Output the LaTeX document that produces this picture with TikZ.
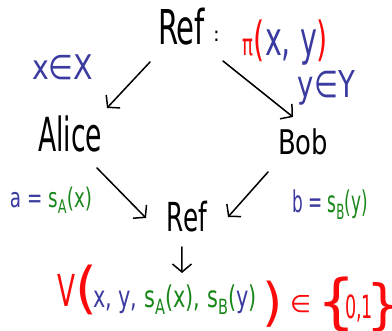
\documentclass[tikz,border=0pt]{standalone}
\usepackage{fontspec}
\setmainfont{DejaVu Sans}
\usetikzlibrary{arrows.meta}
\definecolor{hred}{RGB}{250,10,10}
\definecolor{hblue}{RGB}{58,58,160}
\definecolor{hgreen}{RGB}{25,135,25}
% width w (pt), font size f (pt), text
\newcommand{\wtxt}[3]{\resizebox{#1pt}{\height}{\fontsize{#2}{#2}\selectfont #3}}
\newcommand{\fsz}[2]{{\fontsize{#1}{#1}\selectfont #2}}
\begin{document}
\begin{tikzpicture}[x=1pt,y=-1pt,
  txt/.style={anchor=base west, inner sep=0pt, outer sep=0pt},
  arr/.style={line width=1.5pt, line cap=round, -{Straight Barb[length=8pt,width=19pt,line width=1.5pt]}}]
\useasboundingbox[fill=white] (0,0) rectangle (392,331);
% top
\node[txt] (refTop) at (158,45) {\wtxt{47}{48}{Ref}};
\node[txt] (colon) at (213,42) {\fsz{20}{:}};
\node[txt] (pi) at (243,56) {\wtxt{85}{47}{\textcolor{hred}{\fsz{30}{π}(}\textcolor{hblue}{x, y}\textcolor{hred}{)}}};
\node[txt, text=hblue] (xinX) at (32,80) {\wtxt{61}{34}{x∈X}};
\node[txt, text=hblue] (yinY) at (298,98) {\wtxt{57}{37}{y∈Y}};
% middle
\node[txt] (alice) at (38,152) {\wtxt{64}{47}{Alice}};
\node[txt] (bob) at (278,155) {\wtxt{50}{34}{Bob}};
\node[txt] (aeq) at (10,208) {\wtxt{82}{27}{\textcolor{hblue}{a = }\textcolor{hgreen}{s\textsubscript{A}(x)}}};
\node[txt] (beq) at (292,213) {\wtxt{76}{30}{\textcolor{hblue}{b = }\textcolor{hgreen}{s\textsubscript{B}(y)}}};
\node[txt] (refBot) at (167,232) {\wtxt{40}{40}{Ref}};
% bottom formula
\node[txt, text=hred] (vV) at (57,307) {\wtxt{18}{44}{V}};
\node[txt, text=hred] (lpar) at (75,308) {\fsz{56}{(}};
\node[txt] (inner) at (93,308) {\wtxt{164}{30}{\textcolor{hblue}{x, y, }\textcolor{hgreen}{s\textsubscript{A}(x), s\textsubscript{B}(}\textcolor{hblue}{y}\textcolor{hgreen}{)}}};
\node[txt, text=hred] (rpar) at (262,321) {\fsz{52}{)}};
\node[txt, text=hred] (elem) at (290,313) {\fsz{24}{∈}};
\node[txt, text=hred] (lbr) at (317,323) {\makebox[27pt][l]{\fsz{60}{\{}}};
\node[txt, text=hred] (zo) at (345,319) {\scalebox{0.55}[1]{\fsz{32}{0,1}}};
\node[txt, text=hred] (rbr) at (366,324) {\makebox[24pt][l]{\fsz{54}{\}}}};
% arrows
\draw[arr] ([shift={(-8,17)}]refTop.base west) -- ([shift={(5,-44)}]alice.base east);
\draw[arr] ([shift={(18,16)}]refTop.base east) -- ([shift={(-10,-38)}]bob.base);
\draw[arr] ([shift={(-5,16)}]alice.base east) -- ([shift={(-21,-14)}]refBot.base west);
\draw[arr] ([shift={(-35,17)}]bob.base) -- ([shift={(21,-15)}]refBot.base east);
\draw[arr] ([shift={(-5,15)}]refBot.base) -- ([shift={(7,-35)}]inner.base);
\end{tikzpicture}
\end{document}
